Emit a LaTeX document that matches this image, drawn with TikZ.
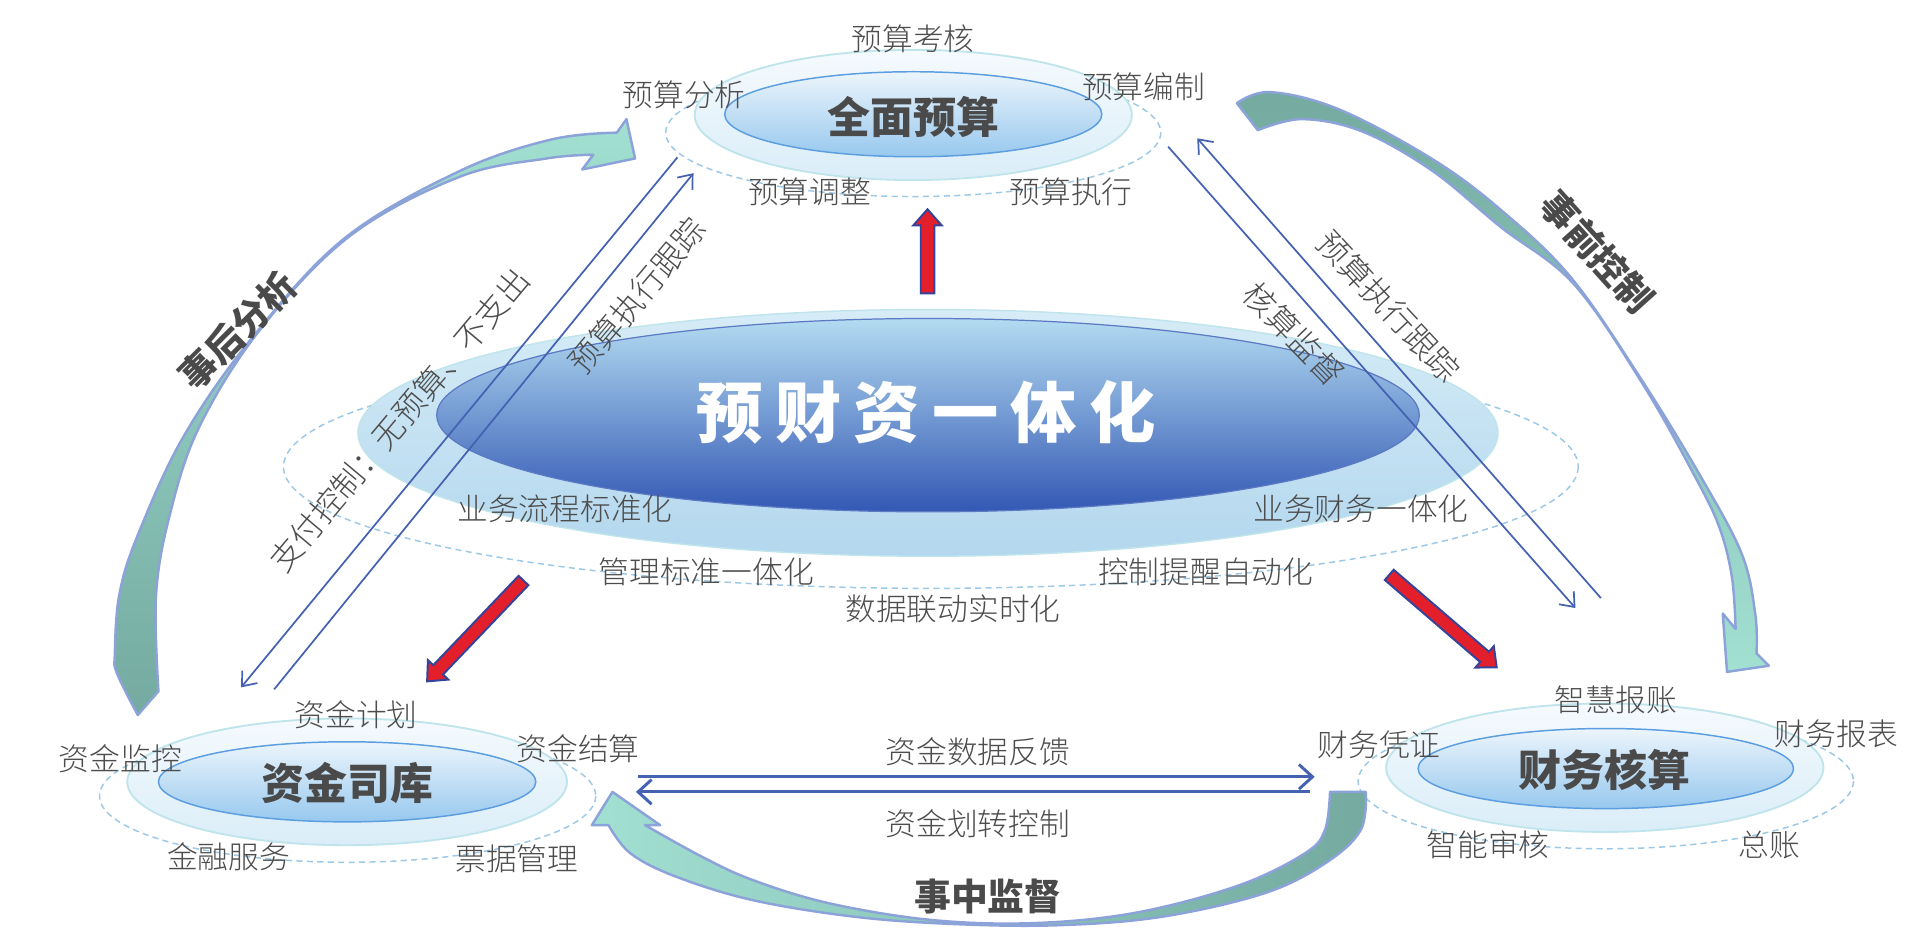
\documentclass[tikz,border=0pt]{standalone}
\usepackage{fontspec}
\usetikzlibrary{arrows.meta}
\newfontfamily\cjk{Noto Sans CJK SC}
\newfontfamily\cjkl{Noto Sans CJK SC}[UprightFont={* Light}]
\definecolor{labgray}{HTML}{4D4D4D}
\definecolor{ttlgray}{HTML}{4A4A4A}
\definecolor{linblue}{HTML}{4561B2}
\definecolor{dashblue}{HTML}{9DC9E6}
\definecolor{tealdk}{HTML}{74AAA0}
\definecolor{mint}{HTML}{A2E0D2}
\definecolor{arredge}{HTML}{8CA3D9}
\definecolor{redfill}{HTML}{E41F2C}
\definecolor{navy}{HTML}{34449A}
\definecolor{halotop}{HTML}{F5FAFE}
\definecolor{halobot}{HTML}{DAEDF8}
\definecolor{haloedge}{HTML}{BFE4EB}
\definecolor{intop}{HTML}{ECF5FC}
\definecolor{inbot}{HTML}{97C8EE}
\definecolor{inedge}{HTML}{5C9EE0}
\definecolor{chtop}{HTML}{D6ECF7}
\definecolor{chbot}{HTML}{B3D7EE}
\definecolor{cintop}{HTML}{B3DBF1}
\definecolor{cinbot}{HTML}{3358B4}
\newcommand\blockarr[3]{%
  \begin{scope}[shift={(#1)}, rotate=#2]
    \path[blk] (0,-5.5) -- ({#3-13},-5.5) -- ({#3-13},-11.5) -- (#3,0) -- ({#3-13},11.5) -- ({#3-13},5.5) -- (0,5.5) -- cycle;
  \end{scope}}
\begin{document}
\begin{tikzpicture}[x=1pt,y=-1pt,
 lab/.style={font=\cjkl\fontsize{25}{28}\selectfont, text=labgray, inner sep=0pt},
 rlab/.style={font=\cjkl\fontsize{26}{30}\selectfont, text=labgray, inner sep=0pt},
 blab/.style={font=\cjk\bfseries\fontsize{30}{34}\selectfont, text=ttlgray, inner sep=0pt},
 grp/.style={font=\cjk\bfseries\fontsize{35}{40}\selectfont, text=ttlgray, inner sep=0pt},
 ctitle/.style={font=\cjk\bfseries\fontsize{54}{60}\selectfont, text=white, inner sep=0pt},
 dashring/.style={draw=dashblue, line width=1.2pt, dash pattern=on 5pt off 3.5pt},
 halo/.style={draw=haloedge, line width=1.5pt, top color=halotop, bottom color=halobot},
 innerell/.style={draw=inedge, line width=1.2pt, top color=intop, bottom color=inbot},
 curv/.style={draw=arredge, line width=2pt, line join=round},
 diagline/.style={draw=linblue, line width=1.4pt, -{Straight Barb[length=10pt,width=16pt]}},
 hline/.style={draw=linblue, line width=2.4pt, -{Straight Barb[length=11pt,width=20pt]}},
 blk/.style={fill=redfill, draw=navy, line width=1.6pt, line join=miter}
]
\useasboundingbox (0,0) rectangle (1568,773);
\fill[white] (0,0) rectangle (1568,773);

% dashed rings
\draw[dashring] (743.5,108) ellipse [x radius=201.5, y radius=52];
\draw[dashring] (757.8,380) ellipse [x radius=527, y radius=99];
\draw[dashring] (283,648) ellipse [x radius=202, y radius=54];
\draw[dashring] (1307.3,636) ellipse [x radius=201.6, y radius=55];

% top group
\path[halo] (743.5,93.6) ellipse [x radius=178, y radius=53];
\path[innerell] (743.5,93) ellipse [x radius=153.5, y radius=34.6];
% centre
\path[draw=haloedge, line width=1.2pt, top color=chtop, bottom color=chbot] (755.5,352.4) ellipse [x radius=464, y radius=100.4];
\path[draw=cinbot!80!white, line width=1pt, top color=cintop, bottom color=cinbot] (755.5,338) ellipse [x radius=400, y radius=78.7];
% bottom left
\path[halo] (282.6,636.5) ellipse [x radius=179, y radius=51.6];
\path[innerell] (282.6,636.5) ellipse [x radius=153.6, y radius=32.6];
% bottom right
\path[halo] (1306.5,625) ellipse [x radius=178, y radius=52.3];
\path[innerell] (1307.3,625.7) ellipse [x radius=152.8, y radius=32.6];

% titles
\node[grp] (qmys) at (743.5,95) {全面预算};
\node[ctitle] (ycz) at (754,336) {预\kern10pt 财\kern10pt 资\kern10pt 一\kern10pt 体\kern10pt 化};
\node[grp] (zjsk) at (282.6,637.8) {资金司库};
\node[grp] (cwhs) at (1306.6,627.1) {财务核算};

% labels top
\node[lab] (ys1) at (743.5,31.2) {预算考核};
\node[lab] (ys2) at (557,77.4) {预算分析};
\node[lab] (ys3) at (931,70.6) {预算编制};
\node[lab] (ys4) at (659,156) {预算调整};
\node[lab] (ys5) at (872,156) {预算执行};
% labels centre
\node[lab] (c1) at (460,414) {业务流程标准化};
\node[lab] (c2) at (1108,414) {业务财务一体化};
\node[lab] (c3) at (575,465.5) {管理标准一体化};
\node[lab] (c4) at (981.6,465.5) {控制提醒自动化};
\node[lab] (c5) at (775.8,495.4) {数据联动实时化};
% labels bottom left
\node[lab] (z1) at (290,582.2) {资金计划};
\node[lab] (z2) at (98,617.5) {资金监控};
\node[lab] (z3) at (470.7,609.3) {资金结算};
\node[lab] (z4) at (186,697.5) {金融服务};
\node[lab] (z5) at (420.8,698.9) {票据管理};
% labels bottom right
\node[lab] (f1) at (1315.5,570.1) {智慧报账};
\node[lab] (f2) at (1495,597.7) {财务报表};
\node[lab] (f3) at (1122.8,606.7) {财务凭证};
\node[lab] (f4) at (1211.5,688.1) {智能审核};
\node[lab] (f5) at (1440.6,688.1) {总账};

% curved arrows
\path[curv, top color=mint, bottom color=tealdk]
  plot[smooth, tension=0.6] coordinates {(112.2,582.1) (95.3,548.3) (93.5,532.2) (97.2,483.9) (112.2,435.6) (149.6,355.1) (205.6,274.6) (280.4,194.1) (373.9,139.4) (448.7,113.6) (502.2,108)}
  -- (510,97) -- (517,129) -- (474,138) -- (483,126)
  -- plot[smooth, tension=0.6] coordinates {(483,126) (445,129) (374,144) (285,192) (212,268) (162,348) (138,420) (127,485) (129,562.8)}
  -- cycle;
\path[curv, top color=tealdk, bottom color=mint]
  plot[smooth, tension=0.6] coordinates {(1007,84) (1034,75) (1090,89) (1166,129.5) (1222,171) (1279,226) (1335,307) (1384,387) (1418,451) (1429,500) (1430,532)}
  -- (1440,542) -- (1406,547) -- (1402.5,499.5) -- (1413,512)
  -- plot[smooth, tension=0.6] coordinates {(1413,512) (1410,470) (1400,430) (1381,390) (1337,312) (1281,231) (1222,185) (1166,139) (1109,107) (1060,97) (1024,106)}
  -- cycle;
\path[curv, left color=mint, right color=tealdk]
  plot[smooth, tension=0.6] coordinates {(1111.9,644.7) (1107.7,675.9) (1078.6,703) (1028.8,727.4) (945.6,746.4) (862.6,753.2) (779.5,752.4) (696.3,746.4) (613.2,732.9) (550.9,713.9) (513.5,694.9) (495.4,671.8)}
  -- (481.8,671.8) -- (498.6,644.7) -- (537.5,671.8) -- (525.2,671.8)
  -- plot[smooth, tension=0.6] coordinates {(525.2,671.8) (571.7,697.6) (613.2,716.6) (675.6,735.5) (758.7,749) (841.8,751.5) (924.9,743) (1008,721) (1062,694.9) (1078.6,675.9) (1082.8,644.7)}
  -- cycle;

% thin diagonal connectors
\coordinate (l1s) at (551.5,128.1); \coordinate (l1e) at (196.3,559.6);
\coordinate (l2s) at (223.2,561.2); \coordinate (l2e) at (564.6,141);
\coordinate (r3s) at (951,119.4);   \coordinate (r3e) at (1282.6,495);
\coordinate (r4s) at (1303.3,486.9); \coordinate (r4e) at (974.7,112.6);
\draw[diagline] (l1s) -- (l1e);
\draw[diagline] (l2s) -- (l2e);
\draw[diagline] (r3s) -- (r3e);
\draw[diagline] (r4s) -- (r4e);

% horizontal connectors
\coordinate (h1s) at (519.8,632.4); \coordinate (h1e) at (1070.3,632.4);
\coordinate (h2s) at (1066.2,644.7); \coordinate (h2e) at (517.7,644.7);
\draw[hline] (h1s) -- (h1e);
\draw[hline] (h2s) -- (h2e);
\node[lab] (hl1) at (796,612) {资金数据反馈};
\node[lab] (hl2) at (796,670.5) {资金划转控制};

% red block arrows
\coordinate (ra1) at (755.1,238.9);
\coordinate (ra2) at (426.2,472.6);
\coordinate (ra3) at (1131,468);
\blockarr{ra1}{90}{68.5}
\blockarr{ra2}{-133.7}{113.6}
\blockarr{ra3}{-40.7}{115.4}

% rotated labels
\node[rlab, rotate=50] (t1) at (325,342) {支付控制：无预算、不支出};
\node[rlab, rotate=50] (t2) at (518.8,240.8) {预算执行跟踪};
\node[rlab, rotate=-46] (t3) at (1053.5,272) {核算监督};
\node[rlab, rotate=-47] (t4) at (1130.8,249.5) {预算执行跟踪};
\node[blab, rotate=-48] (b1) at (1300.4,205.2) {事前控制};
\node[blab, rotate=45] (b2) at (193.5,269) {事后分析};
\node[blab] (b3) at (804.3,730) {事中监督};
\end{tikzpicture}
\end{document}
